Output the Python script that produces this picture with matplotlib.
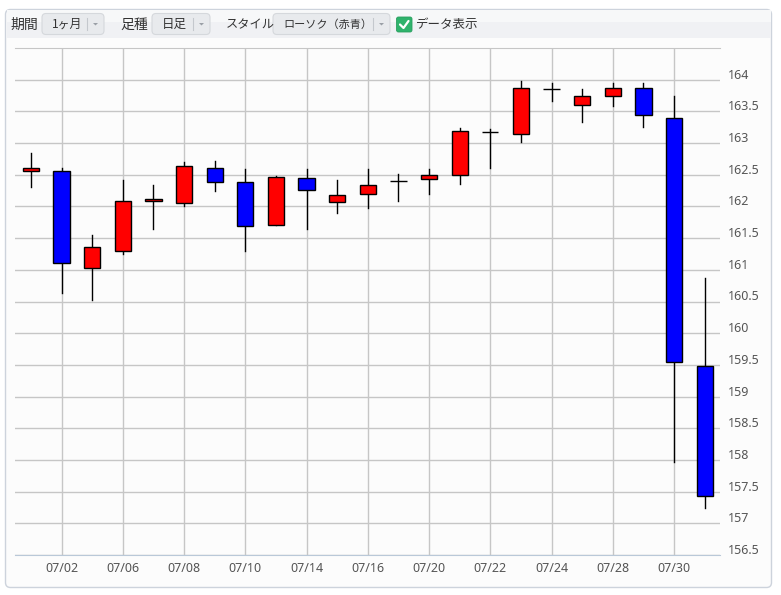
import matplotlib
matplotlib.use('Agg')

import matplotlib.pyplot as plt
import matplotlib.transforms as mtrans
from matplotlib.patches import FancyBboxPatch, Rectangle, Polygon

plt.rcParams['font.family'] = ['Noto Sans CJK JP', 'DejaVu Sans']

# daily candles (open, high, low, close)
opens  = [162.56, 162.56, 161.03, 161.30, 162.08, 162.05, 162.61, 162.38, 161.71, 162.45, 162.07, 162.20,
          162.40, 162.43, 162.50, 163.17, 163.14, 163.85, 163.60, 163.74, 163.87, 163.40, 159.49]
highs  = [162.85, 162.61, 161.55, 162.42, 162.34, 162.70, 162.72, 162.59, 162.48, 162.59, 162.42, 162.59,
          162.51, 162.59, 163.24, 163.22, 163.98, 163.94, 163.85, 163.95, 163.94, 163.75, 160.87]
lows   = [162.30, 160.63, 160.52, 161.25, 161.65, 162.00, 162.25, 161.29, 161.71, 161.64, 161.90, 161.98,
          162.08, 162.20, 162.35, 162.60, 163.01, 163.66, 163.34, 163.59, 163.25, 157.97, 157.24]
closes = [162.61, 161.11, 161.36, 162.08, 162.12, 162.64, 162.38, 161.69, 162.46, 162.26, 162.18, 162.34,
          162.40, 162.50, 163.19, 163.18, 163.87, 163.85, 163.74, 163.87, 163.44, 159.55, 157.43]

# x labels shown on every second candle
label_pos = [1, 3, 5, 7, 9, 11, 13, 15, 17, 19, 21]
labels = ['07/02', '07/06', '07/08', '07/10', '07/14', '07/16', '07/20', '07/22', '07/24', '07/28', '07/30']

yticks = [156.5, 157, 157.5, 158, 158.5, 159, 159.5, 160, 160.5, 161, 161.5, 162, 162.5, 163, 163.5, 164]

W, H = 781, 595
fig = plt.figure(figsize=(W / 100, H / 100), dpi=100)
fig.patch.set_facecolor('white')

# ---- widget frame / toolbar drawn in pixel coordinates
ui = fig.add_axes([0, 0, 1, 1], zorder=0)
ui.set_xlim(0, W)
ui.set_ylim(H, 0)
ui.axis('off')

ui.add_patch(FancyBboxPatch((5.5, 9.5), 766, 578, boxstyle='round,pad=0,rounding_size=5',
                            fc='#fcfcfc', ec='#cdd3dc', lw=1))
ui.add_patch(Rectangle((6.5, 10), 764, 28, fc='#f0f1f4', ec='none'))
ui.add_patch(Rectangle((6.5, 10), 764, 12, fc='#f7f8f9', ec='none'))


def combo(x0, x1, text, size):
    ui.add_patch(FancyBboxPatch((x0, 13.5), x1 - x0, 21, boxstyle='round,pad=0,rounding_size=4',
                                fc='#e8eaed', ec='#d5d8dc', lw=0.8))
    ui.plot([x1 - 17, x1 - 17], [18, 30], color='#c4c8cd', lw=0.8)
    ui.add_patch(Polygon([[x1 - 11, 23], [x1 - 6, 23], [x1 - 8.5, 25.5]], closed=True,
                         fc='#9a9fa6', ec='none'))
    ui.text(x0 + 10, 24.5, text, fontsize=size, color='#333333', va='center', ha='left')


ui.text(10, 24.5, '期間', fontsize=10, color='#333333', va='center')
combo(42, 104, '1ヶ月', 8.6)
ui.text(120, 24.5, '足種', fontsize=10, color='#333333', va='center')
combo(152, 210, '日足', 9)
ui.text(226, 24.5, 'スタイル', fontsize=8.8, color='#333333', va='center')
combo(273, 390, 'ローソク（赤青）', 8)
ui.add_patch(FancyBboxPatch((396.5, 17), 15.5, 15, boxstyle='round,pad=0,rounding_size=2',
                            fc='#2fb36c', ec='#2a9e60', lw=0.6))
ui.plot([400, 403.5, 408.5], [24.5, 28, 21], color='white', lw=1.6, solid_capstyle='round')
ui.text(416, 24.5, 'データ表示', fontsize=9, color='#333333', va='center')

# ---- candlestick chart
ax = fig.add_axes([15 / W, 1 - 555 / H, 705 / W, 507 / H], zorder=1)
ax.set_facecolor('#fcfcfc')
ax.set_xlim(-0.52, 22.5)
ax.set_ylim(156.5, 164.5)

body_w = 0.53
for i in range(len(opens)):
    o, h, l, c = opens[i], highs[i], lows[i], closes[i]
    col = '#ff0000' if c >= o else '#0000ff'
    ax.plot([i, i], [l, h], color='black', lw=1.0, zorder=3)
    ax.bar(i, abs(c - o), bottom=min(o, c), width=body_w, color=col,
           edgecolor='black', linewidth=1.0, zorder=4)

ax.set_xticks(label_pos)
ax.set_xticklabels(labels)
ax.set_yticks(yticks)
ax.set_yticklabels(['%g' % v for v in yticks])
ax.yaxis.tick_right()
ax.grid(True, color='#c6c6c6', lw=1.0)
ax.set_axisbelow(True)
ax.tick_params(length=0, labelsize=9, labelcolor='#555555', pad=5)
ax.tick_params(axis='y', pad=6)
for lab in ax.get_xticklabels() + ax.get_yticklabels():
    lab.set_family(['Noto Sans', 'DejaVu Sans'])

# y labels sit a little above their grid lines
shift = mtrans.ScaledTranslation(0, 6 / 100, fig.dpi_scale_trans)
for lab in ax.get_yticklabels():
    lab.set_transform(lab.get_transform() + shift)

for s in ['left', 'right']:
    ax.spines[s].set_visible(False)
ax.spines['top'].set_color('#c6c6c6')
ax.spines['bottom'].set_color('#b9c8d8')

plt.savefig('out.png', dpi=100)
